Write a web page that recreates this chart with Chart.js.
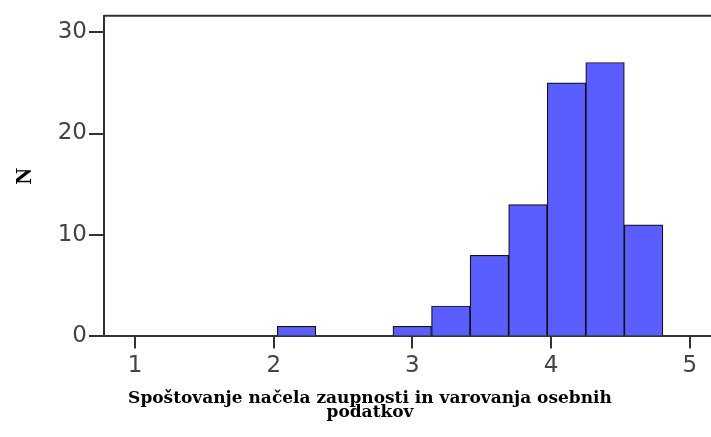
<!DOCTYPE html>
<html>
<head>
<meta charset="utf-8">
<script src="https://cdn.jsdelivr.net/npm/chart.js@4.4.0/dist/chart.umd.min.js"></script>
<style>
  html, body { margin: 0; padding: 0; background: #fff; overflow: hidden; }
  #wrap { width: 740px; height: 437px; }
</style>
</head>
<body>
<div id="wrap"><canvas id="hist" width="740" height="437"></canvas></div>
<script>
// histogram bins (centres) and counts
const binCentres = [2.165, 2.443, 2.721, 2.999, 3.277, 3.555, 3.833, 4.111, 4.389, 4.667];
const counts     = [1,     0,     0,     1,     3,     8,     13,    25,    27,    11];
const xTicks = [1, 2, 3, 4, 5];
const yTicks = [0, 10, 20, 30];
const xTitle = ['Spoštovanje načela zaupnosti in varovanja osebnih', 'podatkov'];
const yTitle = 'N';

const tickFont = { family: 'DejaVu Sans', size: 23 };
const axisCol = '#333';

// top border of the plot frame
const frameTop = {
    id: 'frameTop',
    afterDraw(chart) {
        const { ctx, chartArea } = chart;
        ctx.save();
        ctx.strokeStyle = axisCol;
        ctx.lineWidth = 2;
        ctx.beginPath();
        ctx.moveTo(chartArea.left, chartArea.top);
        ctx.lineTo(chartArea.right, chartArea.top);
        ctx.stroke();
        ctx.restore();
    }
};

const ctx = document.getElementById('hist').getContext('2d');
new Chart(ctx, {
    type: 'bar',
    data: {
        datasets: [{
            data: binCentres.map((x, i) => ({ x: x, y: counts[i] })),
            backgroundColor: '#5a5eff',
            borderColor: '#111',
            borderWidth: 1.2,
            barPercentage: 1,
            categoryPercentage: 1
        }]
    },
    options: {
        responsive: false,
        animation: false,
        layout: { padding: { top: 14, left: 0, right: 0, bottom: 0 } },
        plugins: {
            legend: { display: false },
            tooltip: { enabled: false },
            title: {
                display: true,
                position: 'bottom',
                text: xTitle,
                color: '#000',
                font: { family: 'DejaVu Serif', size: 17, weight: 'bold', lineHeight: 0.84 },
                padding: { top: 9, bottom: 17 }
            }
        },
        scales: {
            x: {
                type: 'linear',
                offset: false,
                min: 0.7765,
                max: 5.362,
                afterFit(scale) { scale.height = 46; },
                afterBuildTicks(scale) { scale.ticks = xTicks.map(v => ({ value: v })); },
                ticks: { color: '#444', font: tickFont, padding: 4, stepSize: 1 },
                grid: { display: true, offset: false, drawOnChartArea: false, drawTicks: true, tickLength: 12, tickColor: axisCol, lineWidth: 2 },
                border: { display: true, color: axisCol, width: 2 }
            },
            y: {
                min: 0,
                max: 31.6,
                afterFit(scale) { scale.width = 104; },
                afterBuildTicks(scale) { scale.ticks = yTicks.map(v => ({ value: v })); },
                ticks: { color: '#444', font: tickFont, padding: 2, stepSize: 10 },
                grid: { display: true, drawOnChartArea: false, drawTicks: true, tickLength: 15, tickColor: axisCol, lineWidth: 2 },
                border: { display: true, color: axisCol, width: 2 },
                title: {
                    display: true,
                    text: yTitle,
                    color: '#000',
                    font: { family: 'Liberation Serif', size: 23, weight: 'bold' },
                    padding: { top: 11, bottom: 0 }
                }
            }
        }
    },
    plugins: [frameTop]
});
</script>
</body>
</html>
